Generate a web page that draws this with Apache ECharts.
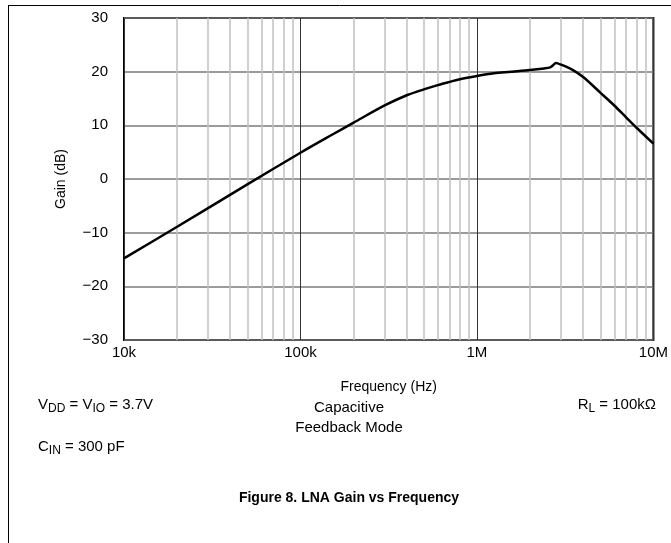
<!DOCTYPE html>
<html>
<head>
<meta charset="utf-8">
<script src="https://cdn.jsdelivr.net/npm/echarts@6/dist/echarts.min.js"></script>
<style>html,body{margin:0;padding:0;background:#fff;}#c{width:671px;height:543px;}</style>
</head>
<body>
<div id="c"></div>
<script>
const freqHz = [10000, 20000, 50000, 100000, 150000, 200000, 300000, 400000, 500000, 600000, 700000, 800000, 1000000, 1250000, 1500000, 2000000, 2400000, 2600000, 2700000, 2800000, 3000000, 3500000, 4000000, 5000000, 6000000, 7000000, 8000000, 10000000];
const gainDb = [-14.8, -8.9, -1.0, 4.9, 8.2, 10.5, 13.7, 15.6, 16.7, 17.5, 18.1, 18.6, 19.2, 19.7, 19.95, 20.3, 20.6, 20.8, 21.2, 21.6, 21.3, 20.3, 19.0, 16.1, 13.7, 11.5, 9.6, 6.6];
const decades = [10000, 100000, 1000000];
const minorMultipliers = [2, 3, 4, 5, 6, 7, 8, 9];
const xTickLabels = {10000: '10k', 100000: '100k', 1000000: '1M', 10000000: '10M'};
const yTicks = [-30, -20, -10, 0, 10, 20, 30];

const FONT = "'Liberation Sans', Arial, sans-serif";
const minorFreqs = [];
decades.forEach(d => minorMultipliers.forEach(m => minorFreqs.push(d * m)));

const chart = echarts.init(document.getElementById('c'));
const sub = {fontSize: 12, fontFamily: FONT, color: '#000', padding: [9, 0, 0, 0]};
const base = {fontSize: 15, fontFamily: FONT, color: '#000', lineHeight: 20};

chart.setOption({
  animation: false,
  backgroundColor: '#fff',
  grid: {left: 124, right: 16, top: 18, bottom: 203, show: true, borderColor: '#000', borderWidth: 2, backgroundColor: 'transparent'},
  xAxis: {
    type: 'log', logBase: 10, min: 10000, max: 10000000,
    name: 'Frequency (Hz)', nameLocation: 'middle', nameGap: 40,
    nameTextStyle: {fontSize: 14, fontFamily: FONT, color: '#000'},
    axisLine: {show: false}, axisTick: {show: false},
    axisLabel: {fontSize: 15, fontFamily: FONT, color: '#000', margin: 5, formatter: v => xTickLabels[Math.round(v)] || ''},
    splitLine: {show: true, lineStyle: {color: '#333', width: 1}}
  },
  yAxis: {
    type: 'value', min: -30, max: 30, interval: 10,
    name: 'Gain (dB)', nameLocation: 'middle', nameGap: 56, nameRotate: 90,
    nameTextStyle: {fontSize: 14, fontFamily: FONT, color: '#000'},
    axisLine: {show: false}, axisTick: {show: false},
    axisLabel: {fontSize: 15, fontFamily: FONT, color: '#000', margin: 16, formatter: v => (v < 0 ? '\u2212' + Math.abs(v) : String(v))},
    splitLine: {show: true, lineStyle: {color: '#7a7a7a', width: 1.5}}
  },
  series: [{
    type: 'line',
    data: freqHz.map((f, i) => [f, gainDb[i]]),
    showSymbol: false,
    smooth: 0.3,
    lineStyle: {color: '#000', width: 2.5},
    z: 5,
    markLine: {
      silent: true, symbol: 'none', label: {show: false},
      lineStyle: {color: '#c0c0c0', width: 1.5, type: 'solid'},
      data: minorFreqs.map(f => ({xAxis: f})),
      z: 1
    }
  }],
  graphic: [
    {type: 'line', shape: {x1: 8, y1: 5.5, x2: 671, y2: 5.5}, style: {stroke: '#000', lineWidth: 1}},
    {type: 'line', shape: {x1: 8.5, y1: 5, x2: 8.5, y2: 543}, style: {stroke: '#000', lineWidth: 1}},
    {type: 'text', left: 38, top: 397, style: {text: '{b|V}{s|DD}{b| = V}{s|IO}{b| = 3.7V}', rich: {b: base, s: sub}}},
    {type: 'text', left: 38, top: 439, style: {text: '{b|C}{s|IN}{b| = 300 pF}', rich: {b: base, s: sub}}},
    {type: 'text', right: 15, top: 397, style: {text: '{b|R}{s|L}{b| = 100k\u03A9}', rich: {b: base, s: sub}}},
    {type: 'text', x: 349, y: 398, style: {text: 'Capacitive\nFeedback Mode', align: 'center', fontSize: 15, lineHeight: 20, fontFamily: FONT, fill: '#000'}},
    {type: 'text', x: 349, y: 491, style: {text: 'Figure 8. LNA Gain vs Frequency', align: 'center', fontSize: 14, fontWeight: 'bold', fontFamily: FONT, fill: '#000'}}
  ]
});
</script>
</body>
</html>
